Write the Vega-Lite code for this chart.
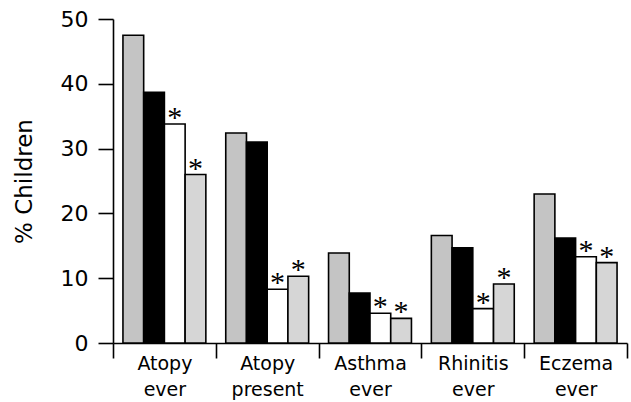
{
  "$schema": "https://vega.github.io/schema/vega-lite/v6.json",
  "autosize": {"type": "none"},
  "width": 514,
  "height": 324,
  "padding": {"left": 113, "top": 19, "right": 4, "bottom": 59},
  "background": "white",
  "config": {
    "font": "DejaVu Sans",
    "view": {"stroke": null},
    "axis": {"domainColor": "black", "tickColor": "black", "domainWidth": 1.6, "tickWidth": 1.6, "labelColor": "black", "titleColor": "black", "grid": false}
  },
  "data": {
    "values": [
      {"category": "Atopy ever", "group": "Group 1", "value": 47.5, "sig": ""},
      {"category": "Atopy ever", "group": "Group 2", "value": 38.7, "sig": ""},
      {"category": "Atopy ever", "group": "Group 3", "value": 33.8, "sig": "*"},
      {"category": "Atopy ever", "group": "Group 4", "value": 26.0, "sig": "*"},
      {"category": "Atopy present", "group": "Group 1", "value": 32.4, "sig": ""},
      {"category": "Atopy present", "group": "Group 2", "value": 31.0, "sig": ""},
      {"category": "Atopy present", "group": "Group 3", "value": 8.3, "sig": "*"},
      {"category": "Atopy present", "group": "Group 4", "value": 10.3, "sig": "*"},
      {"category": "Asthma ever", "group": "Group 1", "value": 13.9, "sig": ""},
      {"category": "Asthma ever", "group": "Group 2", "value": 7.7, "sig": ""},
      {"category": "Asthma ever", "group": "Group 3", "value": 4.6, "sig": "*"},
      {"category": "Asthma ever", "group": "Group 4", "value": 3.8, "sig": "*"},
      {"category": "Rhinitis ever", "group": "Group 1", "value": 16.6, "sig": ""},
      {"category": "Rhinitis ever", "group": "Group 2", "value": 14.7, "sig": ""},
      {"category": "Rhinitis ever", "group": "Group 3", "value": 5.3, "sig": "*"},
      {"category": "Rhinitis ever", "group": "Group 4", "value": 9.1, "sig": "*"},
      {"category": "Eczema ever", "group": "Group 1", "value": 23.0, "sig": ""},
      {"category": "Eczema ever", "group": "Group 2", "value": 16.2, "sig": ""},
      {"category": "Eczema ever", "group": "Group 3", "value": 13.3, "sig": "*"},
      {"category": "Eczema ever", "group": "Group 4", "value": 12.4, "sig": "*"}
    ]
  },
  "encoding": {
    "x": {
      "field": "category",
      "type": "nominal",
      "sort": null,
      "scale": {"paddingInner": 0, "paddingOuter": 0},
      "axis": {
        "title": null,
        "labelAngle": 0,
        "tickBand": "extent",
        "tickSize": 15,
        "labelFontSize": 19,
        "labelPadding": -4,
        "labelLineHeight": 26,
        "labelBaseline": "top",
        "labelExpr": "split(datum.label, ' ')"
      }
    },
    "xOffset": {
      "field": "group",
      "type": "nominal",
      "scale": {"paddingInner": 0, "paddingOuter": 0.48}
    },
    "y": {
      "field": "value",
      "type": "quantitative",
      "scale": {"domain": [0, 50], "nice": false},
      "axis": {
        "title": "% Children",
        "values": [0, 10, 20, 30, 40, 50],
        "ticks": true,
        "tickSize": 15,
        "labelFontSize": 22,
        "labelPadding": 10,
        "titleFontSize": 23,
        "titleFontWeight": "normal",
        "titlePadding": 24
      }
    }
  },
  "layer": [
    {
      "mark": {"type": "bar", "stroke": "black", "strokeWidth": 1.6},
      "encoding": {
        "fill": {
          "field": "group",
          "type": "nominal",
          "legend": null,
          "scale": {"domain": ["Group 1", "Group 2", "Group 3", "Group 4"], "range": ["#c4c4c4", "#000000", "#ffffff", "#d6d6d6"]}
        }
      }
    },
    {
      "mark": {"type": "text", "fontSize": 30, "baseline": "middle", "dy": -6, "fill": "black", "font": "Liberation Serif"},
      "encoding": {
        "text": {"field": "sig"}
      }
    }
  ]
}
